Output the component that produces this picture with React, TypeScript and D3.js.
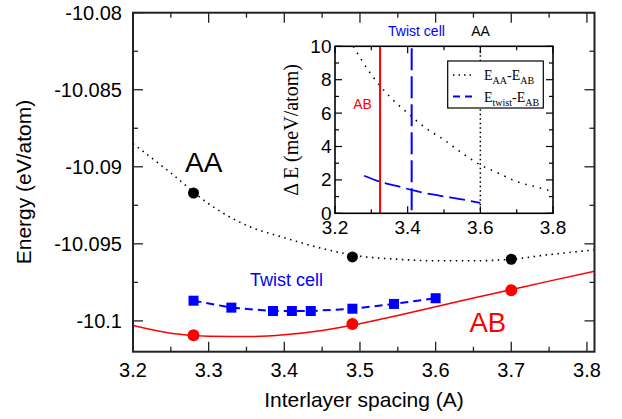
import React from "react";
import * as d3 from "d3";

// ---- data ----
const aaX = [3.28, 3.49, 3.7];
const aaE = [-10.0917, -10.09585, -10.096];
const abX = [3.28, 3.49, 3.7];
const abE = [-10.10094, -10.1002, -10.09801];
const twistX = [3.28, 3.33, 3.385, 3.41, 3.435, 3.49, 3.545, 3.6];
const twistE = [-10.09869, -10.09914, -10.09936, -10.09936, -10.09936, -10.09921, -10.0989, -10.09853];

const fitX = [3.2, 3.25, 3.3, 3.35, 3.4, 3.45, 3.5, 3.55, 3.6, 3.65, 3.7, 3.75, 3.81];
const aaFit = [-10.0885, -10.0904, -10.0924, -10.0938, -10.0946, -10.0953, -10.0958, -10.096, -10.0961, -10.0961, -10.096, -10.0957, -10.0954];
const abFit = [-10.1003, -10.1008, -10.101, -10.10102, -10.1009, -10.10062, -10.10018, -10.09965, -10.09908, -10.09852, -10.09797, -10.09742, -10.09678];

const insetX = [3.25, 3.3, 3.35, 3.4, 3.45, 3.5, 3.55, 3.6, 3.65, 3.7, 3.75, 3.8];
const insetAA = [10.0, 8.3, 7.0, 6.0, 5.1, 4.4, 3.6, 2.9, 2.4, 1.9, 1.6, 1.3];
const insetTwist = [2.25, 1.85, 1.55, 1.4, 1.27, 1.05, 0.85, 0.62];
const abSpacing = 3.324;
const twistSpacing = 3.411;
const aaSpacing = 3.6;

const xTicks = [3.2, 3.3, 3.4, 3.5, 3.6, 3.7, 3.8];
const xMinor = [3.25, 3.35, 3.45, 3.55, 3.65, 3.75];
const yTicks = [-10.1, -10.095, -10.09, -10.085, -10.08];
const yMinor = [-10.0975, -10.0925, -10.0875, -10.0825];
const insetXTicks = [3.2, 3.4, 3.6, 3.8];
const insetXMinor = [3.3, 3.5, 3.7];
const insetYTicks = [0, 2, 4, 6, 8, 10];
const insetYMinor = [1, 3, 5, 7, 9];

const SANS = "'Liberation Sans', Arial, Helvetica, sans-serif";
const SERIF = "'Liberation Serif', 'Times New Roman', serif";

export default function App() {
  const x = d3.scaleLinear().domain([3.2, 3.81]).range([133, 594.5]);
  const y = d3.scaleLinear().domain([-10.102, -10.08]).range([351.7, 12.7]);
  const ix = d3.scaleLinear().domain([3.2, 3.8]).range([335, 553]);
  const iy = d3.scaleLinear().domain([0, 10]).range([213.3, 46.3]);

  const [x0, x1] = x.range();
  const [y0, y1] = y.range();
  const [ix0, ix1] = ix.range();
  const [iy0, iy1] = iy.range();

  const smooth = (xs: number[], ys: number[], sx: any, sy: any) =>
    d3
      .line<number>()
      .x((_, i) => sx(xs[i]))
      .y((d) => sy(d))
      .curve(d3.curveMonotoneX)(ys) as string;
  const straight = (xs: number[], ys: number[], sx: any, sy: any) =>
    d3
      .line<number>()
      .x((_, i) => sx(xs[i]))
      .y((d) => sy(d))(ys) as string;

  const frame = "#222";

  return (
    <svg
      width={622}
      height={419}
      style={{ position: "absolute", left: 0, top: 0, background: "#fff" }}
    >
      <rect x={0} y={0} width={622} height={419} fill="#fff" />
      <defs>
        <clipPath id="mainClip">
          <rect x={x0} y={y1} width={x1 - x0} height={y0 - y1} />
        </clipPath>
        <clipPath id="insetClip">
          <rect x={ix0} y={iy1} width={ix1 - ix0} height={iy0 - iy1} />
        </clipPath>
      </defs>

      {/* main ticks */}
      <g stroke={frame} strokeWidth={1.3}>
        {xTicks.map((t) => (
          <g key={"xt" + t}>
            <line x1={x(t)} x2={x(t)} y1={y0} y2={y0 - 10} />
            <line x1={x(t)} x2={x(t)} y1={y1} y2={y1 + 10} />
          </g>
        ))}
        {xMinor.map((t) => (
          <g key={"xm" + t}>
            <line x1={x(t)} x2={x(t)} y1={y0} y2={y0 - 5} />
            <line x1={x(t)} x2={x(t)} y1={y1} y2={y1 + 5} />
          </g>
        ))}
        {yTicks.map((t) => (
          <g key={"yt" + t}>
            <line x1={x0} x2={x0 + 10} y1={y(t)} y2={y(t)} />
            <line x1={x1} x2={x1 - 10} y1={y(t)} y2={y(t)} />
          </g>
        ))}
        {yMinor.map((t) => (
          <g key={"ym" + t}>
            <line x1={x0} x2={x0 + 5} y1={y(t)} y2={y(t)} />
            <line x1={x1} x2={x1 - 5} y1={y(t)} y2={y(t)} />
          </g>
        ))}
      </g>

      {/* main curves */}
      <g clipPath="url(#mainClip)" fill="none">
        <path
          d={smooth(fitX, aaFit, x, y)}
          stroke="#000"
          strokeWidth={1.6}
          strokeDasharray="1.5 4.5"
        />
        <path d={smooth(fitX, abFit, x, y)} stroke="#ff0000" strokeWidth={1.5} />
        <path
          d={straight(twistX, twistE, x, y)}
          stroke="#0000ff"
          strokeWidth={2}
          strokeDasharray="8 5"
        />
      </g>

      {/* markers */}
      {aaE.map((v, i) => (
        <circle key={"aa" + i} cx={x(aaX[i])} cy={y(v)} r={5.5} fill="#000" />
      ))}
      {abE.map((v, i) => (
        <circle key={"ab" + i} cx={x(abX[i])} cy={y(v)} r={6} fill="#ff0000" />
      ))}
      {twistE.map((v, i) => (
        <rect
          key={"tw" + i}
          x={x(twistX[i]) - 5}
          y={y(v) - 5}
          width={10}
          height={10}
          fill="#0000ff"
        />
      ))}

      {/* main frame */}
      <rect
        x={x0}
        y={y1}
        width={x1 - x0}
        height={y0 - y1}
        fill="none"
        stroke={frame}
        strokeWidth={2}
      />

      {/* main tick labels */}
      <g fontFamily={SANS} fontSize={20} fill="#000">
        {xTicks.map((t) => (
          <text key={"xl" + t} x={x(t)} y={376.5} textAnchor="middle">
            {t.toFixed(1)}
          </text>
        ))}
        {yTicks.map((t) => (
          <text key={"yl" + t} x={122} y={y(t) + 7} textAnchor="end">
            {String(t)}
          </text>
        ))}
      </g>

      {/* axis titles */}
      <text x={364} y={407} textAnchor="middle" fontFamily={SANS} fontSize={21}>
        Interlayer spacing (A)
      </text>
      <text
        transform="translate(31,182) rotate(-90)"
        textAnchor="middle"
        fontFamily={SANS}
        fontSize={21}
      >
        Energy (eV/atom)
      </text>

      {/* main annotations */}
      <text x={185} y={171.5} fontFamily={SANS} fontSize={28} fill="#000">
        AA
      </text>
      <text x={469.5} y={331.5} fontFamily={SANS} fontSize={27.5} fill="#ff0000">
        AB
      </text>
      <text x={250} y={286} fontFamily={SANS} fontSize={18} fill="#0000ff">
        Twist cell
      </text>

      {/* ---------- inset ---------- */}
      <rect x={ix0} y={iy1} width={ix1 - ix0} height={iy0 - iy1} fill="#fff" />
      <g stroke="#000" strokeWidth={1.2}>
        {insetXTicks.map((t) => (
          <g key={"ixt" + t}>
            <line x1={ix(t)} x2={ix(t)} y1={iy0} y2={iy0 - 7} />
            <line x1={ix(t)} x2={ix(t)} y1={iy1} y2={iy1 + 7} />
          </g>
        ))}
        {insetXMinor.map((t) => (
          <g key={"ixm" + t}>
            <line x1={ix(t)} x2={ix(t)} y1={iy0} y2={iy0 - 4} />
            <line x1={ix(t)} x2={ix(t)} y1={iy1} y2={iy1 + 4} />
          </g>
        ))}
        {insetYTicks.map((t) => (
          <g key={"iyt" + t}>
            <line x1={ix0} x2={ix0 + 7} y1={iy(t)} y2={iy(t)} />
            <line x1={ix1} x2={ix1 - 7} y1={iy(t)} y2={iy(t)} />
          </g>
        ))}
        {insetYMinor.map((t) => (
          <g key={"iym" + t}>
            <line x1={ix0} x2={ix0 + 4} y1={iy(t)} y2={iy(t)} />
            <line x1={ix1} x2={ix1 - 4} y1={iy(t)} y2={iy(t)} />
          </g>
        ))}
      </g>

      <g clipPath="url(#insetClip)" fill="none">
        <path
          d={smooth(insetX, insetAA, ix, iy)}
          stroke="#000"
          strokeWidth={1.6}
          strokeDasharray="1.5 6"
        />
        <path
          d={smooth(twistX, insetTwist, ix, iy)}
          stroke="#0000ff"
          strokeWidth={1.8}
          strokeDasharray="16 6"
        />
        <line
          x1={ix(abSpacing)}
          x2={ix(abSpacing)}
          y1={iy1}
          y2={iy0}
          stroke="#ff0000"
          strokeWidth={2}
        />
        <line
          x1={ix(twistSpacing)}
          x2={ix(twistSpacing)}
          y1={iy1 + 2}
          y2={iy0}
          stroke="#0000ff"
          strokeWidth={2}
          strokeDasharray="22 6"
        />
        <line
          x1={ix(aaSpacing)}
          x2={ix(aaSpacing)}
          y1={iy1}
          y2={iy0}
          stroke="#000"
          strokeWidth={1.5}
          strokeDasharray="1.5 3"
        />
      </g>

      {/* legend */}
      <rect x={447.7} y={61} width={95.6} height={47} fill="#fff" stroke="#000" strokeWidth={1.2} />
      <line x1={453} x2={472} y1={75} y2={75} stroke="#000" strokeWidth={1.6} strokeDasharray="1.5 4" />
      <line x1={453} x2={472} y1={96.5} y2={96.5} stroke="#0000ff" strokeWidth={1.8} strokeDasharray="7 5" />
      <text x={484} y={80} fontFamily={SERIF} fontSize={14}>
        E<tspan fontSize={10} dy={4}>AA</tspan>
        <tspan dy={-4}>-E</tspan>
        <tspan fontSize={10} dy={4}>AB</tspan>
      </text>
      <text x={484} y={101.5} fontFamily={SERIF} fontSize={14}>
        E<tspan fontSize={10} dy={4}>twist</tspan>
        <tspan dy={-4}>-E</tspan>
        <tspan fontSize={10} dy={4}>AB</tspan>
      </text>

      <rect
        x={ix0}
        y={iy1}
        width={ix1 - ix0}
        height={iy0 - iy1}
        fill="none"
        stroke="#000"
        strokeWidth={1.6}
      />

      {/* inset tick labels */}
      <g fontFamily={SANS} fontSize={19} fill="#000">
        {insetXTicks.map((t) => (
          <text key={"ixl" + t} x={ix(t)} y={234} textAnchor="middle">
            {t.toFixed(1)}
          </text>
        ))}
        {insetYTicks.map((t) => (
          <text key={"iyl" + t} x={331.5} y={iy(t) + 6.5} textAnchor="end">
            {String(t)}
          </text>
        ))}
      </g>
      <text
        transform="translate(298,130) rotate(-90)"
        textAnchor="middle"
        fontFamily={SERIF}
        fontSize={20}
      >
        Δ E (meV/atom)
      </text>

      {/* inset annotations */}
      <text x={416.5} y={36} textAnchor="middle" fontFamily={SANS} fontSize={14} fill="#0000ff">
        Twist cell
      </text>
      <text x={480.5} y={36} textAnchor="middle" fontFamily={SANS} fontSize={14} fill="#000">
        AA
      </text>
      <text x={362.5} y={109} textAnchor="middle" fontFamily={SANS} fontSize={14} fill="#ff0000">
        AB
      </text>
    </svg>
  );
}
